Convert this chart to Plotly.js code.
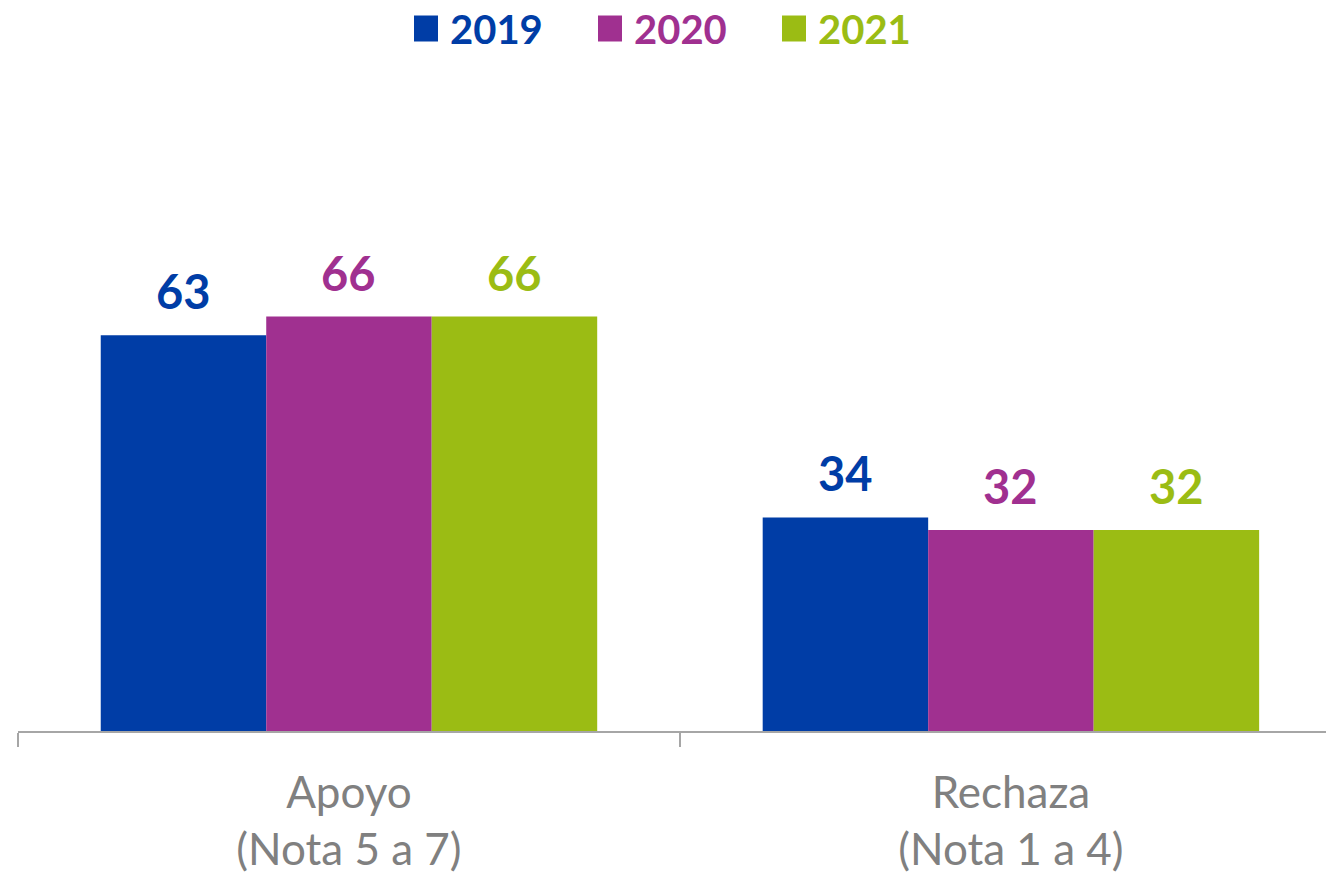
<!DOCTYPE html>
<html>
<head>
<meta charset="utf-8">
<script src="https://cdn.plot.ly/plotly-3.0.1.min.js"></script>
<style>html,body{margin:0;padding:0;background:#fff;}#chart{width:1326px;height:876px;}</style>
</head>
<body>
<div id="chart"></div>
<script>
const categories = ["Apoyo<br>(Nota 5 a 7)", "Rechaza<br>(Nota 1 a 4)"];
const seriesNames = ["2019", "2020", "2021"];
const values2019 = [63, 34];
const values2020 = [66, 32];
const values2021 = [66, 32];
const colors = ["#003DA6", "#A03090", "#9BBC14"];

const allValues = [values2019, values2020, values2021];
const traces = allValues.map((vals, i) => ({
  type: "bar",
  name: seriesNames[i],
  x: categories,
  y: vals,
  marker: {color: colors[i], line: {width: 0}},
  hoverinfo: "skip"
}));

const barPx = 165.5;
const annotations = [];
allValues.forEach((vals, i) => {
  vals.forEach((v, j) => {
    annotations.push({
      x: categories[j], y: v, xref: "x", yref: "y",
      text: "<b>" + v + "</b>", showarrow: false,
      yanchor: "bottom", xanchor: "center",
      xshift: (i - 1) * barPx, yshift: 14,
      font: {family: "Lato, 'Open Sans', sans-serif", size: 47, color: colors[i]}
    });
  });
});

const layout = {
  width: 1326, height: 876,
  margin: {l: 18, r: 0, t: 80, b: 145},
  paper_bgcolor: "#fff", plot_bgcolor: "#fff",
  barmode: "group", bargap: 0.25, bargroupgap: 0,
  showlegend: true,
  legend: {
    orientation: "h", xref: "container", x: 0.3092, xanchor: "left",
    yref: "container", y: 1, yanchor: "top",
    font: {family: "Lato, 'Open Sans', sans-serif", size: 40, color: "#003DA6", weight: "bold"},
    itemwidth: 30, tracegroupgap: 0, entrywidth: 139, entrywidthmode: "pixels"
  },
  xaxis: {
    type: "category", range: [-0.5, 1.476], tickson: "boundaries",
    showline: true, linecolor: "#A6A6A6", linewidth: 2,
    ticks: "outside", ticklen: 14, tickcolor: "#A6A6A6", tickwidth: 2,
    ticklabelstandoff: 22,
    tickfont: {family: "Lato, 'Open Sans', sans-serif", size: 44, color: "#808080"},
    showgrid: false, zeroline: false, fixedrange: true
  },
  yaxis: {
    range: [0, 103.66], visible: false, showgrid: false, zeroline: false, fixedrange: true
  },
  annotations: annotations
};

Plotly.newPlot("chart", traces, layout, {staticPlot: true, displayModeBar: false}).then(() => {
  const texts = document.querySelectorAll(".legend .traces .legendtext");
  texts.forEach((t, i) => { t.style.fill = colors[i]; });
  const pts = document.querySelectorAll(".legend .traces .legendpoints path");
  pts.forEach((p) => {
    p.setAttribute("d", "M-12,-13H12V13H-12Z");
    p.setAttribute("transform", "translate(16,0)");
  });
  const lg = document.querySelector(".legend");
  const m = /translate\(([-\d.]+),\s*([-\d.]+)\)/.exec(lg.getAttribute("transform") || "");
  if (m) lg.setAttribute("transform", "translate(" + m[1] + "," + (parseFloat(m[2]) - 4) + ")");
});
</script>
</body>
</html>
